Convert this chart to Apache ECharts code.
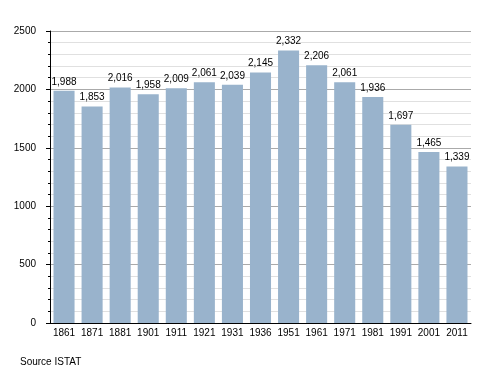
<!DOCTYPE html>
<html><head><meta charset="utf-8">
<script src="https://cdn.jsdelivr.net/npm/echarts@6/dist/echarts.min.js"></script>
<style>html,body{margin:0;padding:0;background:#fff}#c{width:500px;height:373px}</style>
</head><body><div id="c"></div>
<script>
var years = ['1861','1871','1881','1901','1911','1921','1931','1936','1951','1961','1971','1981','1991','2001','2011'];
var population = [1988,1853,2016,1958,2009,2061,2039,2145,2332,2206,2061,1936,1697,1465,1339];
var yTicks = [0,500,1000,1500,2000,2500];

var chart = echarts.init(document.getElementById('c'), null, {renderer:'canvas'});
var font = 'Liberation Sans, Arial, sans-serif';
chart.setOption({
  animation:false,
  backgroundColor:'#fff',
  grid:{left:50,right:29,top:31,bottom:50},
  graphic:[{type:'text',left:20,top:357,style:{text:'Source ISTAT',font:'10px '+font,fill:'#000'}}],
  xAxis:{type:'category',data:years,
    axisLine:{lineStyle:{color:'#000',width:1}},
    axisTick:{show:false},
    axisLabel:{color:'#000',fontSize:10,fontFamily:font,margin:5,interval:0}
  },
  yAxis:{type:'value',min:yTicks[0],max:yTicks[yTicks.length-1],interval:500,
    axisLine:{show:true,lineStyle:{color:'#000',width:1}},
    axisTick:{show:true,length:4,lineStyle:{color:'#000'}},
    minorTick:{show:true,splitNumber:5,length:2,lineStyle:{color:'#000'}},
    splitLine:{lineStyle:{color:'#aaa',width:1}},
    minorSplitLine:{show:true,lineStyle:{color:'#e0e0e0',width:1}},
    axisLabel:{color:'#000',fontSize:10,fontFamily:font,margin:14,
      formatter:function(v){return String(v);}}
  },
  series:[{type:'bar',data:population,barCategoryGap:'25%',
    itemStyle:{color:'#99b3cc'},
    label:{show:true,position:'top',distance:4,color:'#000',fontSize:10,fontFamily:font,
      formatter:function(p){return p.value.toLocaleString('en-US');}}
  }]
});
</script></body></html>
